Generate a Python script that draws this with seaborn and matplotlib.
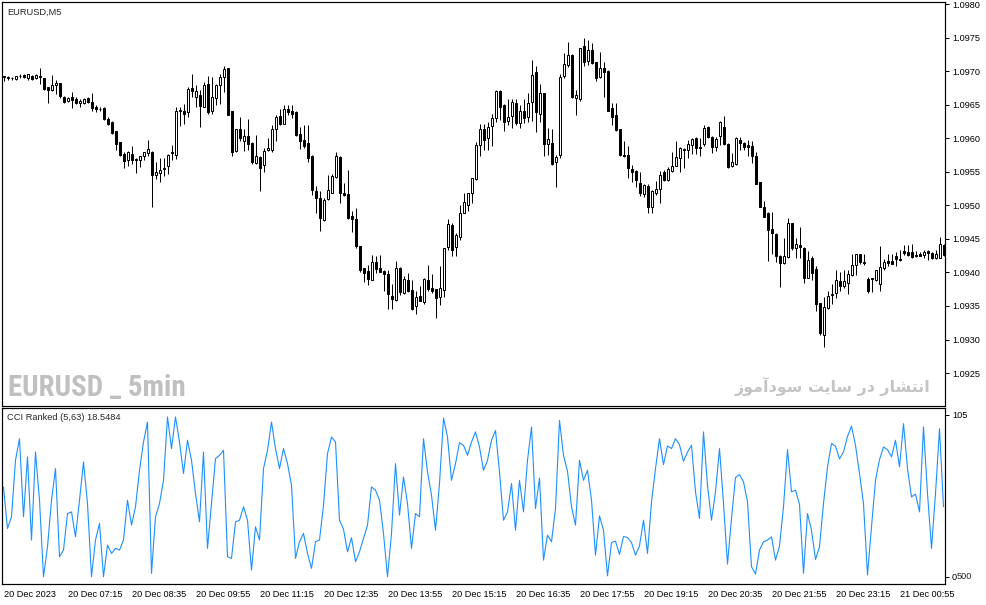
import numpy as np
import pandas as pd
import matplotlib
matplotlib.use("Agg")
import matplotlib.pyplot as plt
from matplotlib import font_manager
import seaborn as sns

#------------------------------------------------------------------------------------------------------------------------------------------------------
# EURUSD M5 bars

opens = [
    1.09692, 1.09691, 1.09690, 1.09688, 1.09692, 1.09694, 1.09689, 1.09692, 1.09689, 1.09693,
    1.09689, 1.09676, 1.09672, 1.09679, 1.09682, 1.09662, 1.09655, 1.09661, 1.09659, 1.09652,
    1.09653, 1.09660, 1.09654, 1.09647, 1.09644, 1.09645, 1.09629, 1.09624, 1.09610, 1.09594,
    1.09576, 1.09568, 1.09577, 1.09569, 1.09568, 1.09573, 1.09578, 1.09579, 1.09545, 1.09548,
    1.09554, 1.09559, 1.09578, 1.09575, 1.09641, 1.09640, 1.09639, 1.09675, 1.09662, 1.09664,
    1.09647, 1.09681, 1.09640, 1.09660, 1.09680, 1.09691, 1.09704, 1.09640, 1.09581, 1.09614,
    1.09596, 1.09604, 1.09593, 1.09563, 1.09572, 1.09560, 1.09582, 1.09583, 1.09613, 1.09633,
    1.09621, 1.09644, 1.09641, 1.09639, 1.09607, 1.09598, 1.09593, 1.09574, 1.09521, 1.09511,
    1.09478, 1.09509, 1.09519, 1.09542, 1.09572, 1.09519, 1.09517, 1.09484, 1.09479, 1.09439,
    1.09406, 1.09402, 1.09389, 1.09415, 1.09406, 1.09402, 1.09397, 1.09365, 1.09359, 1.09406,
    1.09370, 1.09388, 1.09374, 1.09350, 1.09365, 1.09356, 1.09389, 1.09377, 1.09375, 1.09363,
    1.09374, 1.09438, 1.09471, 1.09438, 1.09453, 1.09489, 1.09501, 1.09518, 1.09539, 1.09590,
    1.09613, 1.09600, 1.09618, 1.09630, 1.09671, 1.09650, 1.09625, 1.09633, 1.09652, 1.09622,
    1.09640, 1.09632, 1.09654, 1.09698, 1.09636, 1.09667, 1.09592, 1.09593, 1.09564, 1.09575,
    1.09693, 1.09709, 1.09724, 1.09660, 1.09659, 1.09737, 1.09715, 1.09731, 1.09713, 1.09691,
    1.09704, 1.09700, 1.09645, 1.09634, 1.09613, 1.09575, 1.09575, 1.09554, 1.09551, 1.09533,
    1.09517, 1.09529, 1.09497, 1.09518, 1.09524, 1.09550, 1.09537, 1.09551, 1.09559, 1.09571,
    1.09583, 1.09583, 1.09590, 1.09601, 1.09587, 1.09591, 1.09617, 1.09602, 1.09587, 1.09604,
    1.09617, 1.09592, 1.09559, 1.09561, 1.09598, 1.09593, 1.09590, 1.09588, 1.09574, 1.09534,
    1.09498, 1.09488, 1.09465, 1.09457, 1.09424, 1.09414, 1.09423, 1.09473, 1.09436, 1.09441,
    1.09437, 1.09392, 1.09422, 1.09405, 1.09354, 1.09306, 1.09347, 1.09366, 1.09369, 1.09387,
    1.09380, 1.09384, 1.09396, 1.09411, 1.09427, 1.09415, 1.09390, 1.09391, 1.09388, 1.09383,
    1.09406, 1.09417, 1.09417, 1.09425, 1.09420, 1.09432, 1.09430, 1.09430, 1.09426, 1.09427,
    1.09426, 1.09432, 1.09429, 1.09421, 1.09422, 1.09441,
]

highs = [
    1.09693, 1.09693, 1.09691, 1.09693, 1.09695, 1.09695, 1.09696, 1.09694, 1.09695, 1.09704,
    1.09690, 1.09677, 1.09694, 1.09686, 1.09683, 1.09663, 1.09661, 1.09669, 1.09661, 1.09658,
    1.09660, 1.09662, 1.09667, 1.09650, 1.09647, 1.09646, 1.09632, 1.09625, 1.09611, 1.09595,
    1.09580, 1.09581, 1.09589, 1.09570, 1.09574, 1.09580, 1.09597, 1.09581, 1.09564, 1.09571,
    1.09571, 1.09576, 1.09590, 1.09646, 1.09646, 1.09651, 1.09676, 1.09696, 1.09679, 1.09672,
    1.09684, 1.09692, 1.09691, 1.09681, 1.09696, 1.09708, 1.09705, 1.09641, 1.09614, 1.09631,
    1.09614, 1.09628, 1.09594, 1.09605, 1.09574, 1.09585, 1.09601, 1.09619, 1.09635, 1.09643,
    1.09649, 1.09649, 1.09649, 1.09640, 1.09616, 1.09619, 1.09619, 1.09575, 1.09529, 1.09521,
    1.09511, 1.09545, 1.09546, 1.09579, 1.09573, 1.09533, 1.09553, 1.09491, 1.09496, 1.09440,
    1.09406, 1.09411, 1.09426, 1.09425, 1.09426, 1.09404, 1.09404, 1.09383, 1.09417, 1.09408,
    1.09394, 1.09399, 1.09389, 1.09372, 1.09380, 1.09392, 1.09411, 1.09397, 1.09376, 1.09409,
    1.09437, 1.09479, 1.09474, 1.09458, 1.09501, 1.09518, 1.09519, 1.09541, 1.09594, 1.09621,
    1.09621, 1.09624, 1.09636, 1.09672, 1.09672, 1.09651, 1.09659, 1.09659, 1.09659, 1.09649,
    1.09659, 1.09667, 1.09716, 1.09707, 1.09681, 1.09668, 1.09615, 1.09614, 1.09575, 1.09695,
    1.09727, 1.09743, 1.09725, 1.09672, 1.09735, 1.09750, 1.09746, 1.09742, 1.09714, 1.09728,
    1.09713, 1.09701, 1.09652, 1.09652, 1.09614, 1.09596, 1.09588, 1.09560, 1.09552, 1.09550,
    1.09532, 1.09532, 1.09523, 1.09536, 1.09551, 1.09552, 1.09557, 1.09580, 1.09596, 1.09587,
    1.09586, 1.09598, 1.09601, 1.09602, 1.09601, 1.09620, 1.09618, 1.09604, 1.09602, 1.09626,
    1.09633, 1.09593, 1.09578, 1.09602, 1.09602, 1.09594, 1.09597, 1.09596, 1.09579, 1.09535,
    1.09507, 1.09490, 1.09490, 1.09458, 1.09426, 1.09452, 1.09481, 1.09474, 1.09452, 1.09467,
    1.09438, 1.09432, 1.09424, 1.09409, 1.09355, 1.09363, 1.09372, 1.09382, 1.09403, 1.09400,
    1.09404, 1.09403, 1.09427, 1.09428, 1.09428, 1.09428, 1.09393, 1.09392, 1.09404, 1.09440,
    1.09420, 1.09427, 1.09427, 1.09430, 1.09433, 1.09441, 1.09441, 1.09442, 1.09432, 1.09430,
    1.09433, 1.09434, 1.09430, 1.09434, 1.09453, 1.09442,
]

lows = [
    1.09685, 1.09687, 1.09686, 1.09686, 1.09689, 1.09689, 1.09687, 1.09686, 1.09688, 1.09681,
    1.09672, 1.09652, 1.09670, 1.09666, 1.09660, 1.09653, 1.09654, 1.09645, 1.09651, 1.09646,
    1.09651, 1.09652, 1.09641, 1.09639, 1.09640, 1.09627, 1.09620, 1.09606, 1.09583, 1.09574,
    1.09555, 1.09559, 1.09561, 1.09548, 1.09557, 1.09568, 1.09574, 1.09498, 1.09539, 1.09534,
    1.09543, 1.09547, 1.09568, 1.09569, 1.09618, 1.09621, 1.09631, 1.09661, 1.09646, 1.09616,
    1.09646, 1.09636, 1.09636, 1.09649, 1.09651, 1.09669, 1.09634, 1.09573, 1.09579, 1.09596,
    1.09581, 1.09583, 1.09562, 1.09561, 1.09521, 1.09549, 1.09581, 1.09579, 1.09596, 1.09620,
    1.09621, 1.09635, 1.09630, 1.09604, 1.09584, 1.09586, 1.09565, 1.09515, 1.09489, 1.09461,
    1.09476, 1.09508, 1.09518, 1.09541, 1.09503, 1.09514, 1.09480, 1.09460, 1.09436, 1.09400,
    1.09386, 1.09381, 1.09388, 1.09399, 1.09400, 1.09373, 1.09346, 1.09346, 1.09358, 1.09367,
    1.09368, 1.09371, 1.09344, 1.09338, 1.09357, 1.09353, 1.09373, 1.09369, 1.09332, 1.09352,
    1.09364, 1.09433, 1.09425, 1.09424, 1.09449, 1.09488, 1.09491, 1.09503, 1.09538, 1.09574,
    1.09583, 1.09583, 1.09589, 1.09624, 1.09627, 1.09610, 1.09620, 1.09615, 1.09620, 1.09615,
    1.09622, 1.09624, 1.09625, 1.09609, 1.09624, 1.09574, 1.09575, 1.09560, 1.09527, 1.09571,
    1.09689, 1.09706, 1.09660, 1.09634, 1.09656, 1.09707, 1.09709, 1.09710, 1.09685, 1.09689,
    1.09662, 1.09640, 1.09620, 1.09611, 1.09574, 1.09572, 1.09540, 1.09535, 1.09528, 1.09514,
    1.09513, 1.09489, 1.09489, 1.09516, 1.09504, 1.09536, 1.09536, 1.09550, 1.09558, 1.09549,
    1.09556, 1.09571, 1.09577, 1.09577, 1.09574, 1.09588, 1.09600, 1.09578, 1.09581, 1.09590,
    1.09590, 1.09556, 1.09557, 1.09560, 1.09582, 1.09582, 1.09573, 1.09563, 1.09531, 1.09497,
    1.09482, 1.09417, 1.09427, 1.09416, 1.09378, 1.09413, 1.09422, 1.09433, 1.09422, 1.09422,
    1.09384, 1.09391, 1.09389, 1.09343, 1.09306, 1.09289, 1.09346, 1.09353, 1.09362, 1.09373,
    1.09377, 1.09368, 1.09394, 1.09396, 1.09412, 1.09411, 1.09369, 1.09371, 1.09387, 1.09373,
    1.09404, 1.09410, 1.09412, 1.09410, 1.09417, 1.09426, 1.09425, 1.09422, 1.09423, 1.09424,
    1.09422, 1.09419, 1.09420, 1.09420, 1.09421, 1.09424,
]

closes = [
    1.09691, 1.09690, 1.09689, 1.09692, 1.09693, 1.09691, 1.09695, 1.09688, 1.09694, 1.09691,
    1.09674, 1.09672, 1.09679, 1.09682, 1.09663, 1.09654, 1.09660, 1.09657, 1.09653, 1.09656,
    1.09659, 1.09654, 1.09645, 1.09643, 1.09643, 1.09629, 1.09621, 1.09608, 1.09592, 1.09575,
    1.09566, 1.09580, 1.09567, 1.09568, 1.09573, 1.09579, 1.09584, 1.09545, 1.09549, 1.09553,
    1.09556, 1.09575, 1.09580, 1.09640, 1.09642, 1.09636, 1.09674, 1.09670, 1.09670, 1.09648,
    1.09680, 1.09639, 1.09661, 1.09679, 1.09691, 1.09703, 1.09635, 1.09580, 1.09613, 1.09600,
    1.09603, 1.09591, 1.09564, 1.09574, 1.09556, 1.09581, 1.09585, 1.09613, 1.09631, 1.09621,
    1.09643, 1.09639, 1.09636, 1.09605, 1.09596, 1.09589, 1.09571, 1.09523, 1.09511, 1.09481,
    1.09508, 1.09523, 1.09543, 1.09573, 1.09518, 1.09516, 1.09481, 1.09480, 1.09439, 1.09403,
    1.09399, 1.09390, 1.09415, 1.09405, 1.09401, 1.09397, 1.09368, 1.09360, 1.09407, 1.09371,
    1.09390, 1.09372, 1.09346, 1.09364, 1.09358, 1.09390, 1.09376, 1.09373, 1.09362, 1.09377,
    1.09436, 1.09472, 1.09434, 1.09455, 1.09488, 1.09505, 1.09518, 1.09540, 1.09590, 1.09613,
    1.09598, 1.09617, 1.09630, 1.09670, 1.09647, 1.09624, 1.09632, 1.09654, 1.09623, 1.09641,
    1.09630, 1.09652, 1.09694, 1.09639, 1.09668, 1.09592, 1.09599, 1.09562, 1.09572, 1.09691,
    1.09710, 1.09724, 1.09662, 1.09664, 1.09734, 1.09714, 1.09731, 1.09712, 1.09690, 1.09705,
    1.09699, 1.09641, 1.09632, 1.09612, 1.09575, 1.09574, 1.09556, 1.09549, 1.09537, 1.09518,
    1.09530, 1.09497, 1.09521, 1.09525, 1.09545, 1.09537, 1.09554, 1.09559, 1.09572, 1.09585,
    1.09584, 1.09592, 1.09599, 1.09586, 1.09585, 1.09615, 1.09602, 1.09587, 1.09599, 1.09624,
    1.09591, 1.09557, 1.09564, 1.09601, 1.09593, 1.09587, 1.09587, 1.09574, 1.09532, 1.09498,
    1.09483, 1.09463, 1.09459, 1.09424, 1.09414, 1.09424, 1.09473, 1.09437, 1.09442, 1.09438,
    1.09391, 1.09419, 1.09399, 1.09353, 1.09309, 1.09348, 1.09365, 1.09368, 1.09388, 1.09380,
    1.09387, 1.09398, 1.09411, 1.09427, 1.09416, 1.09414, 1.09373, 1.09390, 1.09403, 1.09408,
    1.09415, 1.09414, 1.09413, 1.09420, 1.09418, 1.09429, 1.09426, 1.09423, 1.09425, 1.09425,
    1.09430, 1.09429, 1.09421, 1.09427, 1.09442, 1.09426,
]

# CCI Ranked (5,63) line
cci_ranked = [
    58.3, 31.3, 38.9, 75.6, 89.6, 38.9, 77.8, 23.8, 81.0, 49.7,
    0.0, 19.4, 49.7, 70.2, 13.0, 17.3, 41.0, 42.1, 25.9, 49.7,
    74.5, 47.5, 0.0, 23.8, 34.6, 0.0, 20.5, 15.1, 18.4, 17.3,
    23.8, 49.7, 33.5, 45.4, 69.1, 87.5, 100.4, 2.2, 38.9, 47.5,
    62.6, 103.7, 83.2, 103.7, 87.5, 67.0, 88.6, 75.6, 54.0, 35.6,
    81.0, 18.4, 47.5, 76.7, 78.8, 82.1, 13.0, 11.9, 35.6, 36.7,
    45.4, 36.7, 4.3, 32.4, 23.8, 70.2, 82.1, 100.4, 83.2, 70.2,
    83.2, 73.4, 59.4, 11.9, 22.7, 28.1, 15.1, 5.4, 22.7, 23.8,
    46.4, 79.9, 90.7, 87.5, 36.7, 30.9, 16.2, 25.3, 9.7, 16.2,
    24.8, 33.5, 58.3, 56.2, 49.7, 28.1, 0.0, 28.1, 73.4, 40.0,
    64.8, 47.5, 18.4, 41.0, 38.9, 89.6, 68.0, 52.9, 30.2, 60.5,
    103.0, 90.7, 62.6, 73.4, 87.0, 85.3, 78.8, 87.5, 94.0, 84.2,
    69.1, 75.6, 88.6, 95.0, 68.0, 36.7, 42.1, 60.5, 30.2, 62.6,
    42.1, 75.6, 97.2, 44.3, 64.1, 10.8, 27.0, 22.7, 44.3, 101.5,
    78.8, 68.5, 45.4, 33.5, 75.6, 62.6, 69.1, 49.7, 14.0, 39.5,
    30.2, 0.6, 22.2, 23.1, 14.5, 26.1, 25.5, 22.2, 14.0, 20.1,
    36.7, 15.1, 48.6, 70.2, 89.6, 72.8, 84.9, 83.2, 89.6, 85.7,
    74.9, 81.0, 85.3, 55.1, 37.8, 94.0, 59.4, 36.7, 55.1, 83.2,
    47.5, 8.2, 37.8, 64.4, 66.3, 61.6, 48.6, 6.5, 1.7, 17.3,
    22.7, 23.8, 25.9, 10.8, 19.9, 45.4, 82.5, 55.1, 56.2, 47.1,
    2.2, 41.0, 30.2, 11.2, 19.4, 47.5, 71.3, 86.4, 84.7, 76.5,
    81.0, 91.1, 97.8, 85.3, 67.0, 47.5, 1.1, 32.4, 62.6, 76.0,
    84.2, 82.5, 77.8, 88.6, 71.3, 99.4, 70.2, 51.8, 53.6, 42.1,
    97.2, 54.0, 18.4, 54.0, 96.1, 45.4,
]

time_labels = ['20 Dec 2023', '20 Dec 07:15', '20 Dec 08:35', '20 Dec 09:55', '20 Dec 11:15',
               '20 Dec 12:35', '20 Dec 13:55', '20 Dec 15:15', '20 Dec 16:35', '20 Dec 17:55',
               '20 Dec 19:15', '20 Dec 20:35', '20 Dec 21:55', '20 Dec 23:15', '21 Dec 00:55']
price_ticks = [1.0925, 1.0930, 1.0935, 1.0940, 1.0945, 1.0950, 1.0955, 1.0960, 1.0965, 1.0970, 1.0975, 1.0980]

watermark_text = 'انتشار در سایت سودآموز'

#------------------------------------------------------------------------------------------------------------------------------------------------------

def shape_arabic(text):
    '''matplotlib does no arabic shaping, so pick the joined glyph forms by hand
    and flip the string for left to right drawing'''
    forms = {  # isolated, final, initial, medial
        'ا': ('\uFE8D', '\uFE8E', None, None),
        'آ': ('\uFE81', '\uFE82', None, None),
        'د': ('\uFEA9', '\uFEAA', None, None),
        'ر': ('\uFEAD', '\uFEAE', None, None),
        'ز': ('\uFEAF', '\uFEB0', None, None),
        'و': ('\uFEED', '\uFEEE', None, None),
        'ن': ('\uFEE5', '\uFEE6', '\uFEE7', '\uFEE8'),
        'ت': ('\uFE95', '\uFE96', '\uFE97', '\uFE98'),
        'ش': ('\uFEB5', '\uFEB6', '\uFEB7', '\uFEB8'),
        'س': ('\uFEB1', '\uFEB2', '\uFEB3', '\uFEB4'),
        'ی': ('\uFEEF', '\uFEF0', '\uFEF3', '\uFEF4'),
        'م': ('\uFEE1', '\uFEE2', '\uFEE3', '\uFEE4'),
    }
    words = []
    for word in text.split(' '):
        out = ''
        for i, ch in enumerate(word):
            f = forms[ch]
            join_prev = i > 0 and forms[word[i - 1]][2] is not None
            join_next = i < len(word) - 1 and f[2] is not None
            if join_prev and join_next:
                out += f[3]
            elif join_prev:
                out += f[1]
            elif join_next:
                out += f[2]
            else:
                out += f[0]
        words.append(out)
    return ' '.join(words)[::-1]


def pick_font(names):
    installed = {f.name for f in font_manager.fontManager.ttflist}
    return [n for n in names if n in installed] + ['DejaVu Sans']


def fit_width(txt, width_px, max_size):
    '''shrink a text until it is width_px wide on the canvas'''
    renderer = txt.figure.canvas.get_renderer()
    w = txt.get_window_extent(renderer).width
    txt.set_fontsize(min(max_size, txt.get_fontsize() * width_px / w))

#------------------------------------------------------------------------------------------------------------------------------------------------------

sns.set_style('white')
plt.rcParams['font.family'] = ['Liberation Sans', 'DejaVu Sans']

bars = pd.DataFrame({'open': opens, 'high': highs, 'low': lows, 'close': closes, 'cci': cci_ranked})
bars['idx'] = np.arange(len(bars))

W, H = 987, 605
fig = plt.figure(figsize=(W / 100, H / 100), dpi=100)
ax1 = fig.add_axes([2 / W, 1 - 406 / H, 943 / W, 404 / H])
ax2 = fig.add_axes([2 / W, 1 - 584 / H, 943 / W, 176 / H])

px = 0.72  # one pixel in points
up = bars.close >= bars.open

# candles: wicks, then bodies on top
ax1.vlines(bars.idx, bars.low, bars.high, color='black', linewidth=px, zorder=1)
ax1.bar(bars.idx, (bars.close - bars.open).abs(), bottom=bars[['open', 'close']].min(axis=1),
        width=0.5, color=np.where(up, 'white', 'black'), edgecolor='black', linewidth=px, zorder=2)

p_per_px = 0.0005 / 33.55
ax1.set_xlim(-0.375, -0.375 + 943 / 4)
ax1.set_ylim(1.0980 - 402 * p_per_px, 1.0980 + 2 * p_per_px)

sns.lineplot(data=bars, x='idx', y='cci', ax=ax2, color='#1e90ff', linewidth=0.8)
ax2.set_xlim(ax1.get_xlim())
ax2.set_ylim(-(584 - 576.7) / 1.543, 105 + (415 - 408) / 1.543)

for ax in (ax1, ax2):
    for s in ax.spines.values():
        s.set_color('black')
        s.set_linewidth(px * 1.2)
    ax.yaxis.tick_right()
    ax.tick_params(axis='y', direction='out', length=3, width=px, pad=2, labelsize=6.6, colors='black')
    ax.set_xlabel('')
    ax.set_ylabel('')

ax1.set_yticks(price_ticks)
ax1.set_yticklabels(['%.4f' % t for t in price_ticks])
ax1.set_xticks([])

ax2.set_yticks([0, 105])
ax2.set_yticklabels(['0', '105'])
# the second scale label sits right after the "0"
ax2.annotate('500', xy=(1, 0), xycoords=('axes fraction', 'data'), xytext=(12, 0),
             textcoords='offset pixels', ha='left', va='center', fontsize=6.6)

ax2.set_xticks(np.arange(len(time_labels)) * 16)
ax2.set_xticklabels(time_labels)
ax2.tick_params(axis='x', direction='out', length=3, width=px, pad=1, labelsize=6.6, colors='black')
plt.setp(ax2.get_xticklabels(), ha='left')

ax1.text(5 / 943, 1 - 10 / 404, 'EURUSD,M5', transform=ax1.transAxes, fontsize=6.7, va='center', ha='left')
ax2.text(5 / 943, 1 - 10 / 176, 'CCI Ranked (5,63) 18.5484', transform=ax2.transAxes,
         fontsize=6.7, va='center', ha='left')

# grey watermarks along the bottom of the price panel
wm1 = ax1.text(6 / 943, 1 - 386 / 404, 'EURUSD _ 5min', transform=ax1.transAxes,
               family=pick_font(['Roboto Condensed', 'Liberation Sans Narrow', 'DejaVu Sans']),
               fontstretch='condensed', fontweight='bold', fontsize=20,
               color='#c0c0c0', va='center', ha='left')
wm2 = ax1.text(928 / 943, 1 - 384 / 404, shape_arabic(watermark_text), transform=ax1.transAxes,
               family=['DejaVu Sans'], fontweight='bold', fontsize=14, color='#c4c4c4',
               va='center', ha='right')
fit_width(wm1, 177, 22)
fit_width(wm2, 197, 16)

fig.savefig('out.png', dpi=100, facecolor='white')
